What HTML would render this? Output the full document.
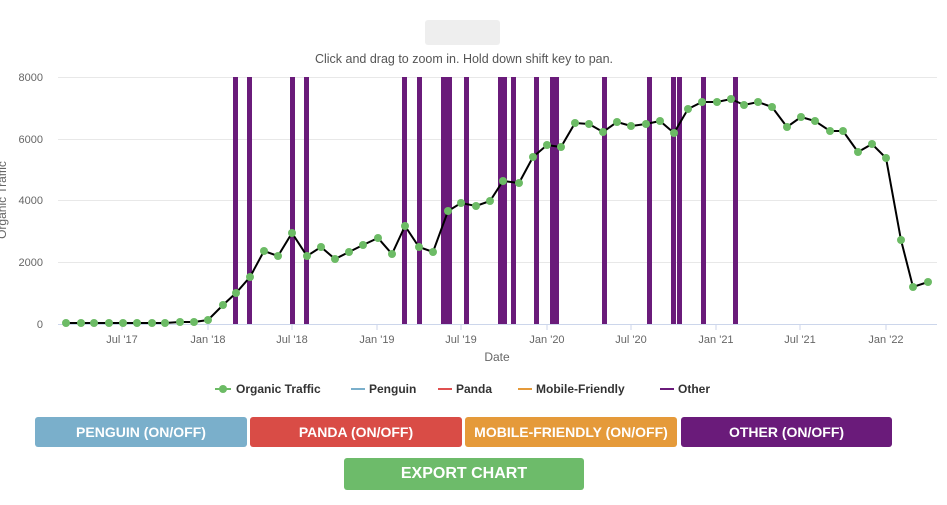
<!DOCTYPE html>
<html><head><meta charset="utf-8"><style>
body{margin:0;background:#fff;width:947px;height:505px;overflow:hidden;font-family:"Liberation Sans",sans-serif;}
.btn{position:absolute;height:30px;line-height:30px;color:#fff;text-align:center;font-size:14px;font-weight:bold;border-radius:3px;}
</style></head><body>
<svg width="947" height="505" style="position:absolute;left:0;top:0" font-family="Liberation Sans, sans-serif">
<rect x="425" y="20" width="75" height="25" fill="#eeeeee" rx="3"/>
<text x="464" y="63" font-size="12.5" fill="#555" text-anchor="middle">Click and drag to zoom in. Hold down shift key to pan.</text>
<g stroke="#e8e8e8" stroke-width="1">
<line x1="58" x2="937" y1="77.5" y2="77.5"/><line x1="58" x2="937" y1="139.5" y2="139.5"/><line x1="58" x2="937" y1="200.5" y2="200.5"/><line x1="58" x2="937" y1="262.5" y2="262.5"/>
</g>
<line x1="58" x2="937" y1="324.5" y2="324.5" stroke="#ccd6eb"/>
<g font-size="11" fill="#666" text-anchor="end">
<text x="43" y="81">8000</text><text x="43" y="143">6000</text><text x="43" y="204">4000</text><text x="43" y="266">2000</text><text x="43" y="328">0</text>
</g>
<text transform="translate(6,200) rotate(-90)" font-size="12" fill="#666" text-anchor="middle">Organic Traffic</text>
<g stroke="#ccd6eb"><line x1="122" x2="122" y1="324" y2="330"/><line x1="208" x2="208" y1="324" y2="330"/><line x1="292" x2="292" y1="324" y2="330"/><line x1="377" x2="377" y1="324" y2="330"/><line x1="461" x2="461" y1="324" y2="330"/><line x1="547" x2="547" y1="324" y2="330"/><line x1="631" x2="631" y1="324" y2="330"/><line x1="716" x2="716" y1="324" y2="330"/><line x1="800" x2="800" y1="324" y2="330"/><line x1="886" x2="886" y1="324" y2="330"/></g>
<g font-size="11" fill="#666" text-anchor="middle">
<text x="122" y="343">Jul '17</text><text x="208" y="343">Jan '18</text><text x="292" y="343">Jul '18</text><text x="377" y="343">Jan '19</text><text x="461" y="343">Jul '19</text><text x="547" y="343">Jan '20</text><text x="631" y="343">Jul '20</text><text x="716" y="343">Jan '21</text><text x="800" y="343">Jul '21</text><text x="886" y="343">Jan '22</text>
</g>
<text x="497" y="361" font-size="12" fill="#666" text-anchor="middle">Date</text>
<g fill="#6a1b7a">
<rect x="233" y="77" width="5" height="247"/><rect x="247" y="77" width="5" height="247"/><rect x="290" y="77" width="5" height="247"/><rect x="304" y="77" width="5" height="247"/><rect x="402" y="77" width="5" height="247"/><rect x="417" y="77" width="5" height="247"/><rect x="441" y="77" width="11" height="247"/><rect x="464" y="77" width="5" height="247"/><rect x="498" y="77" width="9" height="247"/><rect x="511" y="77" width="5" height="247"/><rect x="534" y="77" width="5" height="247"/><rect x="550" y="77" width="9" height="247"/><rect x="602" y="77" width="5" height="247"/><rect x="647" y="77" width="5" height="247"/><rect x="671" y="77" width="5" height="247"/><rect x="677" y="77" width="5" height="247"/><rect x="701" y="77" width="5" height="247"/><rect x="733" y="77" width="5" height="247"/>
</g>
<polyline fill="none" stroke="#000" stroke-width="2" points="66,323 81,323 94,323 109,323 123,323 137,323 152,323 165,323 180,322 194,322 208,320 223,305 236,293 250,277 264,251 278,256 292,233 307,256 321,247 335,259 349,252 363,245 378,238 392,254 405,226 419,247 433,252 448,211 461,203 476,206 490,201 503,181 519,183 533,157 547,145 561,147 575,123 589,124 603,132 617,122 631,126 646,124 660,121 674,133 688,109 702,102 717,102 731,99 744,105 758,102 772,107 787,127 801,117 815,121 830,131 843,131 858,152 872,144 886,158 901,240 913,287 928,282"/>
<g fill="#6cbb65">
<circle cx="66" cy="323" r="4"/><circle cx="81" cy="323" r="4"/><circle cx="94" cy="323" r="4"/><circle cx="109" cy="323" r="4"/><circle cx="123" cy="323" r="4"/><circle cx="137" cy="323" r="4"/><circle cx="152" cy="323" r="4"/><circle cx="165" cy="323" r="4"/><circle cx="180" cy="322" r="4"/><circle cx="194" cy="322" r="4"/><circle cx="208" cy="320" r="4"/><circle cx="223" cy="305" r="4"/><circle cx="236" cy="293" r="4"/><circle cx="250" cy="277" r="4"/><circle cx="264" cy="251" r="4"/><circle cx="278" cy="256" r="4"/><circle cx="292" cy="233" r="4"/><circle cx="307" cy="256" r="4"/><circle cx="321" cy="247" r="4"/><circle cx="335" cy="259" r="4"/><circle cx="349" cy="252" r="4"/><circle cx="363" cy="245" r="4"/><circle cx="378" cy="238" r="4"/><circle cx="392" cy="254" r="4"/><circle cx="405" cy="226" r="4"/><circle cx="419" cy="247" r="4"/><circle cx="433" cy="252" r="4"/><circle cx="448" cy="211" r="4"/><circle cx="461" cy="203" r="4"/><circle cx="476" cy="206" r="4"/><circle cx="490" cy="201" r="4"/><circle cx="503" cy="181" r="4"/><circle cx="519" cy="183" r="4"/><circle cx="533" cy="157" r="4"/><circle cx="547" cy="145" r="4"/><circle cx="561" cy="147" r="4"/><circle cx="575" cy="123" r="4"/><circle cx="589" cy="124" r="4"/><circle cx="603" cy="132" r="4"/><circle cx="617" cy="122" r="4"/><circle cx="631" cy="126" r="4"/><circle cx="646" cy="124" r="4"/><circle cx="660" cy="121" r="4"/><circle cx="674" cy="133" r="4"/><circle cx="688" cy="109" r="4"/><circle cx="702" cy="102" r="4"/><circle cx="717" cy="102" r="4"/><circle cx="731" cy="99" r="4"/><circle cx="744" cy="105" r="4"/><circle cx="758" cy="102" r="4"/><circle cx="772" cy="107" r="4"/><circle cx="787" cy="127" r="4"/><circle cx="801" cy="117" r="4"/><circle cx="815" cy="121" r="4"/><circle cx="830" cy="131" r="4"/><circle cx="843" cy="131" r="4"/><circle cx="858" cy="152" r="4"/><circle cx="872" cy="144" r="4"/><circle cx="886" cy="158" r="4"/><circle cx="901" cy="240" r="4"/><circle cx="913" cy="287" r="4"/><circle cx="928" cy="282" r="4"/>
</g>
<g font-size="12" font-weight="bold" fill="#333">
<line x1="215" x2="231" y1="389" y2="389" stroke="#6cbb65" stroke-width="2"/><circle cx="223" cy="389" r="4" fill="#6cbb65"/>
<text x="236" y="393">Organic Traffic</text>
<line x1="351" x2="365" y1="389" y2="389" stroke="#7aafcb" stroke-width="2"/><text x="369" y="393">Penguin</text>
<line x1="438" x2="452" y1="389" y2="389" stroke="#e05050" stroke-width="2"/><text x="456" y="393">Panda</text>
<line x1="518" x2="532" y1="389" y2="389" stroke="#e59a3a" stroke-width="2"/><text x="536" y="393">Mobile-Friendly</text>
<line x1="660" x2="674" y1="389" y2="389" stroke="#6a1b7a" stroke-width="2"/><text x="678" y="393">Other</text>
</g>
</svg>
<div class="btn" style="left:35px;top:417px;width:212px;background:#7aafcb">PENGUIN (ON/OFF)</div>
<div class="btn" style="left:250px;top:417px;width:212px;background:#d94c46">PANDA (ON/OFF)</div>
<div class="btn" style="left:465px;top:417px;width:212px;background:#e59a3a">MOBILE-FRIENDLY (ON/OFF)</div>
<div class="btn" style="left:681px;top:417px;width:211px;background:#6a1b7a">OTHER (ON/OFF)</div>
<div class="btn" style="left:344px;top:458px;width:240px;height:32px;line-height:32px;font-size:16px;background:#6dbb6a">EXPORT CHART</div>
</body></html>
